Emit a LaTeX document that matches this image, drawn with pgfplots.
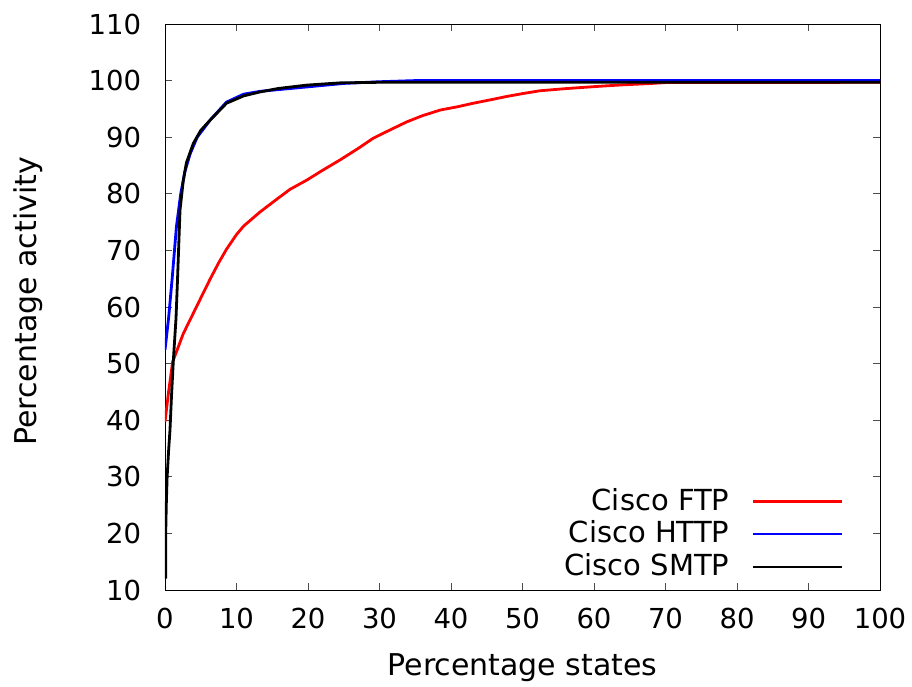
\documentclass[border=0pt]{standalone}
\usepackage{fontspec}
\setmainfont{DejaVu Sans}
\usepackage{pgfplots}
\pgfplotsset{compat=1.18}
\begin{document}
\fontsize{29}{33}\selectfont
\begin{tikzpicture}
\begin{axis}[
  scale only axis,
  width=715pt, height=566pt,
  xmin=0, xmax=100, ymin=10, ymax=110,
  xtick={0,10,...,100}, ytick={10,20,...,110},
  /pgf/number format/assume math mode=true,
  tick align=inside,
  major tick length=7pt,
  tick style={line width=0.8pt, color=black!70},
  axis line style={line width=0.8pt},
  xlabel={Percentage states},
  ylabel={Percentage activity},
  xlabel style={at={(axis description cs:0.5,-0.138)}, anchor=center},
  ylabel style={at={(axis description cs:-0.191,0.51)}, anchor=center},
  ticklabel style={font=\fontsize{27.5}{32}\selectfont},
  xticklabel style={yshift=-8pt},
  yticklabel style={xshift=-14pt},
  label style={font=\fontsize{30}{34}\selectfont},
  legend style={draw=none, fill=none, font=\fontsize{29}{33}\selectfont,
    at={(axis description cs:0.953,0.01)}, anchor=south east,
    row sep=2.5pt},
  legend cell align=right,
  legend plot pos=right,
  legend image code/.code={\path (0pt,0pt); \draw[#1] (20pt,0pt) -- (109pt,0pt);},
]
\addplot[red, line width=2.8pt] coordinates {
(0,39.7) (0.5,45) (1.07,50.3) (2.56,55.3) (4,59) (5.4,62.6) (6.3,64.9) (7.5,67.8)
(8.6,70.2) (10,72.8) (11,74.3) (13.3,76.8) (15.8,79.2) (17.5,80.8) (19.8,82.4)
(22.1,84.2) (24.5,86) (27,88) (29.1,89.8) (31.5,91.3) (33.8,92.7) (36,93.8)
(38.5,94.8) (41,95.4) (43.1,96.0) (45.5,96.6) (47.8,97.2) (50,97.7) (52.4,98.2)
(56.2,98.6) (60.8,99.0) (64,99.25) (67.4,99.45) (70,99.65) (100,99.7)
};
\addlegendentry{Cisco FTP}
\addplot[blue, line width=2.8pt] coordinates {
(0,52.4) (0.5,58) (1.0,65) (1.6,74.2) (2.2,80) (2.8,84) (3.5,87) (4.5,90)
(6.3,93) (8.6,96.2) (11,97.6) (13.3,98.1) (15.8,98.4) (20,98.9) (25,99.5)
(30,99.8) (35,100) (100,100)
};
\addlegendentry{Cisco HTTP}
\addplot[black, line width=2.8pt] coordinates {
(0.1,12) (0.1,20) (0.18,25) (0.3,30) (0.5,34.5) (0.7,38.3) (0.9,44) (1.17,50.6)
(1.54,58) (1.75,64.8) (2.1,77.1) (2.56,82.4) (3,85.5) (3.96,88.9) (5,91.2)
(6.3,93.0) (8.6,96) (11,97.3) (13.3,98.0) (15.8,98.6) (19.8,99.2) (24.5,99.6)
(30,99.7) (100,99.7)
};
\addlegendentry{Cisco SMTP}
\end{axis}
\pgfresetboundingbox
\path[use as bounding box] (current axis.south west) ++(-165pt,-96pt) rectangle ([xshift=32pt,yshift=24pt]current axis.north east);
\end{tikzpicture}
\end{document}
